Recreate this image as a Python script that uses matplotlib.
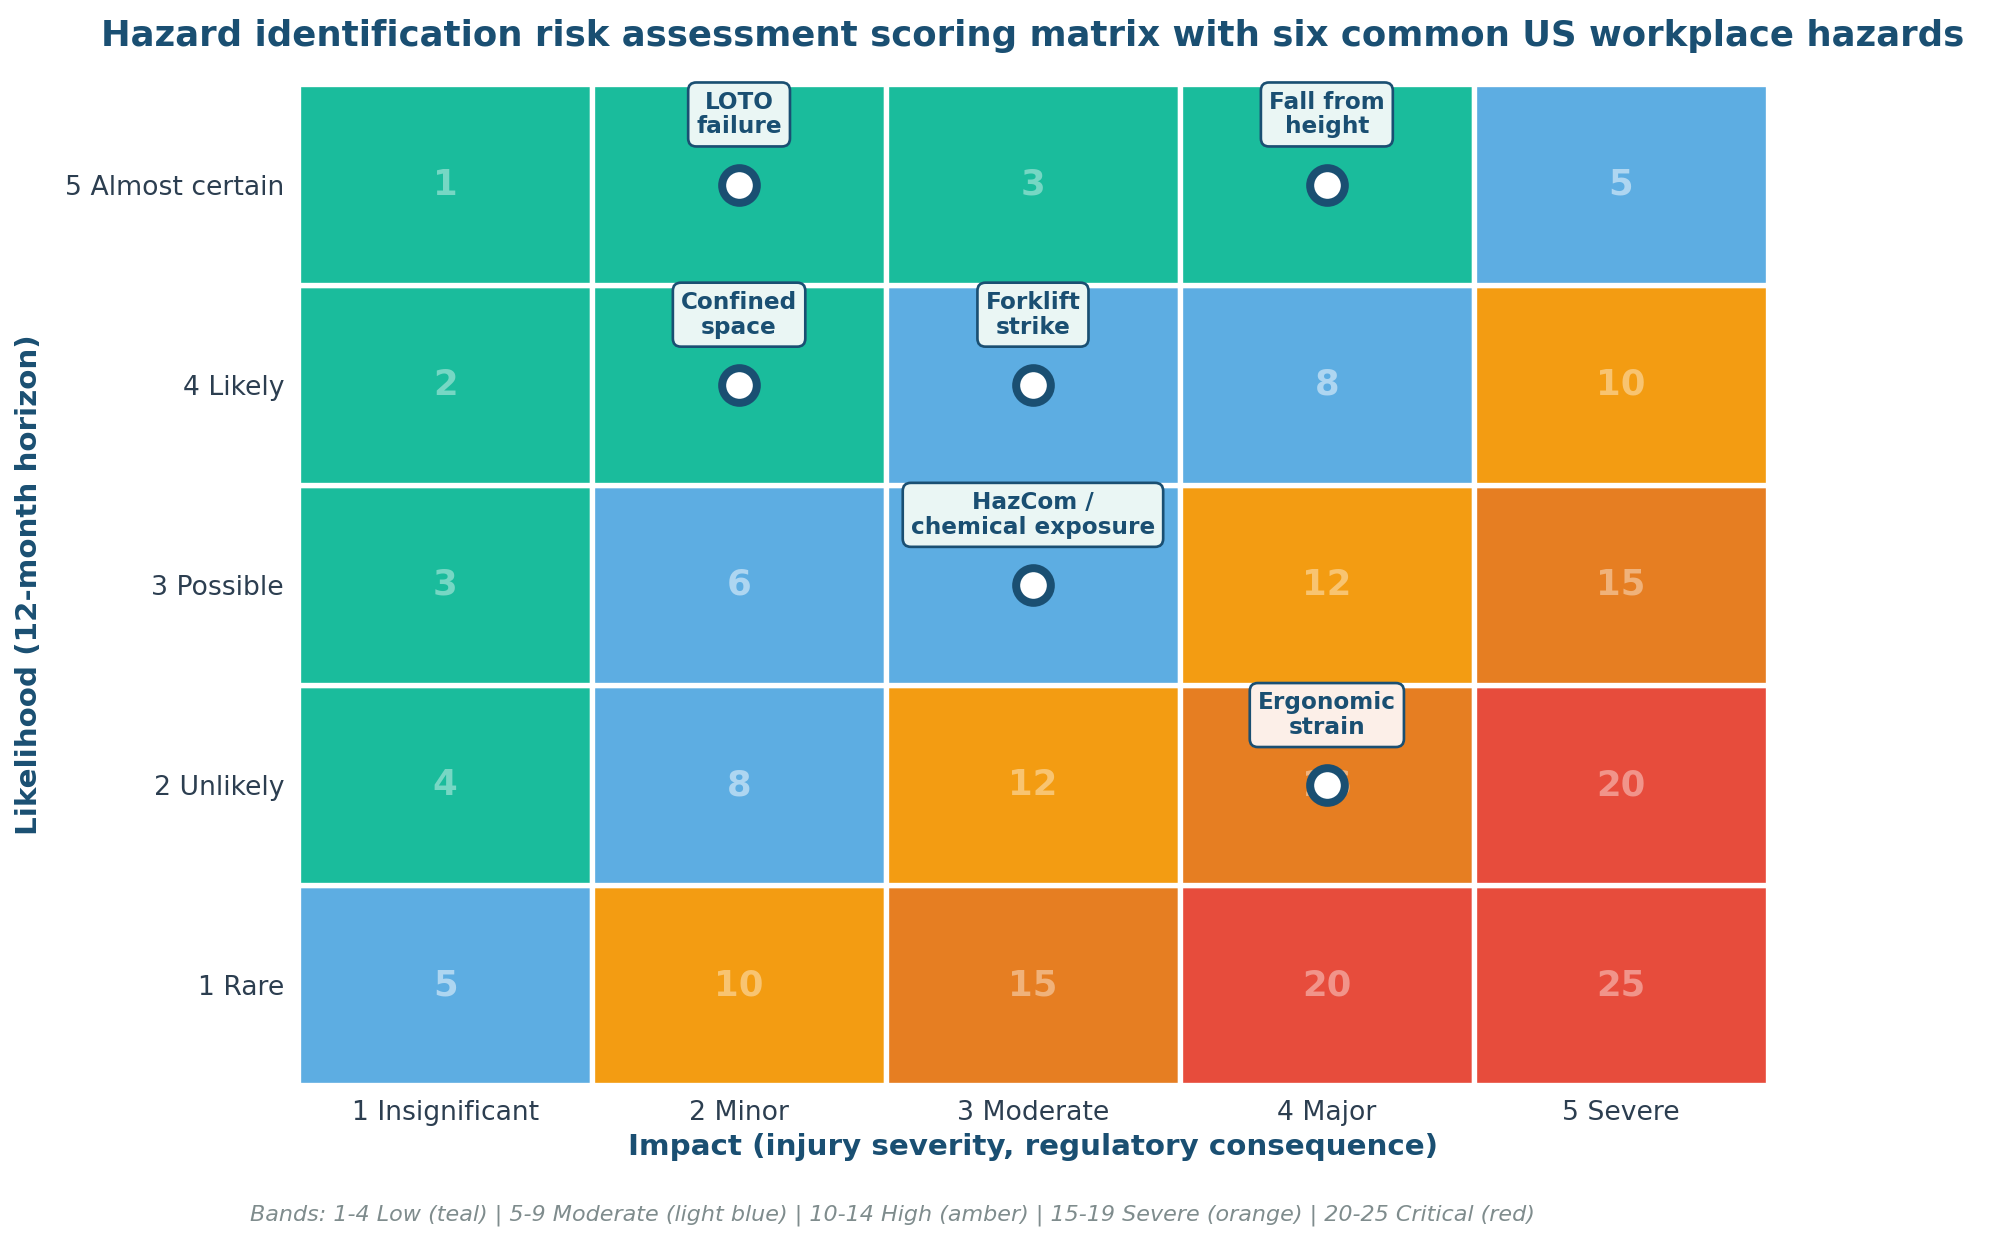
import matplotlib
matplotlib.use("Agg")
import matplotlib.pyplot as plt
from matplotlib.patches import Rectangle

impact_labels = ["1 Insignificant", "2 Minor", "3 Moderate", "4 Major", "5 Severe"]
likelihood_labels = ["1 Rare", "2 Unlikely", "3 Possible", "4 Likely", "5 Almost certain"]
hazards = ["LOTO\nfailure", "Fall from\nheight", "Confined\nspace", "Forklift\nstrike", "HazCom /\nchemical exposure", "Ergonomic\nstrain"]
haz_impact = [2, 4, 2, 3, 3, 4]
haz_likelihood = [5, 5, 4, 4, 3, 2]
haz_box = ["#eaf6f4", "#eaf6f4", "#eaf6f4", "#eaf6f4", "#eaf6f4", "#fcefe8"]

band_edges = [1, 5, 10, 15, 20]
band_colors = ["#1abc9c", "#5dade2", "#f39c12", "#e67e22", "#e74c3c"]
band_text = ["#76d7c4", "#aed6f1", "#f8c471", "#f0b27a", "#f1948a"]

def band(s):
    i = 0
    for k, e in enumerate(band_edges):
        if s >= e:
            i = k
    return i

navy = "#1a4f72"
fig = plt.figure(figsize=(15.6, 9.68), dpi=128)
ax = fig.add_axes([233/1560, 1-848/968, (1381-233)/1560, (848-66)/968])
for li in range(1, 6):
    for im in range(1, 6):
        s = im * (6 - li)
        b = band(s)
        ax.add_patch(Rectangle((im-0.5, li-0.5), 1, 1, facecolor=band_colors[b], edgecolor="white", lw=3))
        ax.text(im, li, str(s), ha="center", va="center", fontsize=20, fontweight="bold", color=band_text[b])
for h, x, y, fc in zip(hazards, haz_impact, haz_likelihood, haz_box):
    ax.scatter(x, y, s=380, facecolor="white", edgecolor=navy, linewidth=4.5, zorder=5)
    ax.text(x, y + 0.35, h, ha="center", va="center", fontsize=13, fontweight="bold", color=navy, zorder=6,
            linespacing=1.1, bbox=dict(boxstyle="round,pad=0.35", facecolor=fc, edgecolor=navy, lw=1.5))
ax.set_xlim(0.5, 5.5)
ax.set_ylim(0.5, 5.5)
ax.set_xticks(range(1, 6))
ax.set_xticklabels(impact_labels, fontsize=15, color="#2c3e50")
ax.set_yticks(range(1, 6))
ax.set_yticklabels(likelihood_labels, fontsize=15, color="#2c3e50")
ax.tick_params(length=0, pad=8)
for sp in ax.spines.values():
    sp.set_visible(False)
ax.set_xlabel("Impact (injury severity, regulatory consequence)", fontsize=16.5, fontweight="bold", color=navy, labelpad=4)
ax.set_ylabel("Likelihood (12-month horizon)", fontsize=16.5, fontweight="bold", color=navy, labelpad=12)
fig.suptitle("Hazard identification risk assessment scoring matrix with six common US workplace hazards",
             x=0.517, y=0.985, fontsize=20, fontweight="bold", color=navy)
fig.text(0.447, 0.015, "Bands: 1-4 Low (teal) | 5-9 Moderate (light blue) | 10-14 High (amber) | 15-19 Severe (orange) | 20-25 Critical (red)",
         ha="center", fontsize=12.5, style="italic", color="#7f8c8d")
fig.savefig("out.png", dpi=128)
